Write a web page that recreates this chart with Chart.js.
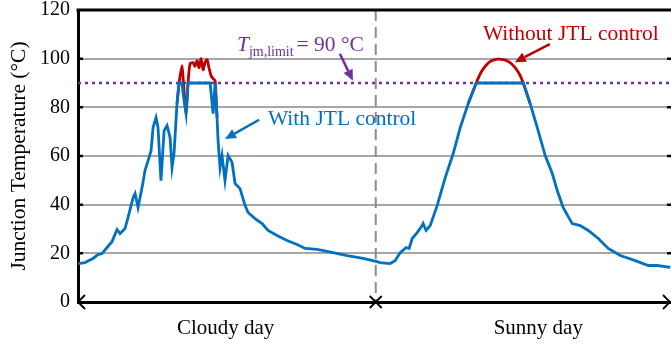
<!DOCTYPE html>
<html>
<head>
<meta charset="utf-8">
<script src="https://cdn.jsdelivr.net/npm/chart.js@4.4.1/dist/chart.umd.min.js"></script>
<style>
  html, body { margin: 0; padding: 0; background: #fff; }
  canvas { display: block; }
</style>
</head>
<body>
<canvas id="chart" width="671" height="346"></canvas>
<script>
// hours over two days: 0-24 cloudy, 24-48 sunny
const hours = [
    0.00, 0.56, 1.21, 1.61, 1.94, 2.34, 2.74, 3.15, 3.39, 3.79,
    4.03, 4.44, 4.60, 4.84, 5.16, 5.40, 5.65, 5.89, 6.05, 6.29,
    6.45, 6.69, 6.94, 7.18, 7.42, 7.58, 7.74, 7.98, 8.15, 8.39,
    8.47, 8.71, 8.87, 10.65, 10.89, 11.05, 11.21, 11.29, 11.45, 11.61,
    11.85, 12.10, 12.42, 12.66, 13.06, 13.47, 13.71, 14.27, 14.84, 15.32,
    16.05, 16.85, 17.66, 18.31, 19.27, 20.56, 21.69, 22.98, 24.11, 24.35,
    25.16, 25.56, 25.97, 26.45, 26.69, 26.94, 27.34, 27.74, 27.82, 28.06,
    28.39, 28.95, 29.60, 30.24, 30.81, 31.45, 32.10, 35.89, 36.45, 37.02,
    37.66, 38.23, 38.63, 39.11, 39.84, 40.48, 41.13, 41.94, 42.74, 43.71,
    44.92, 45.97, 46.69, 47.74
];
const withJtl = [
    15.8, 16.2, 17.9, 19.5, 19.9, 22.4, 24.8, 29.8, 28.1, 30.2,
    34.7, 42.9, 44.6, 38.8, 47.0, 54.0, 58.1, 62.2, 71.7, 75.8,
    71.7, 49.9, 70.4, 72.5, 67.6, 55.2, 61.0, 81.5, 90.0, 90.0,
    85.6, 77.4, 90.0, 90.0, 77.4, 90.0, 75.8, 66.3, 55.2, 60.2,
    49.9, 60.2, 57.3, 48.7, 46.6, 39.6, 36.8, 34.3, 32.2, 29.4,
    27.3, 25.3, 23.6, 22.0, 21.6, 20.3, 19.1, 17.9, 16.6, 16.2,
    15.8, 17.0, 20.3, 22.4, 22.0, 26.1, 28.5, 31.4, 32.2, 29.4,
    31.4, 39.6, 51.1, 60.9, 71.7, 81.5, 90.0, 90.0, 81.5, 71.7,
    60.2, 52.8, 45.8, 38.8, 32.2, 31.4, 29.4, 26.1, 22.0, 19.1,
    17.0, 15.0, 15.0, 14.2
];

// without JTL control, only where it leaves the controlled curve
const noJtlHours = [
    7.98, 8.15, 8.39, 8.50, 8.71, 8.87, 9.03, 9.27, 9.43, 9.60,
    9.76, 9.92, 10.08, 10.24, 10.40, 10.57, 10.73, 10.89, 11.05, 11.21,
    20.0,
    31.45, 32.10, 32.50, 32.90, 33.30, 33.80, 34.30, 34.80, 35.20, 35.60,
    35.89, 36.45
];
const withoutJtl = [
    81.5, 90.0, 97.1, 90.0, 77.4, 90.0, 97.9, 98.4, 96.9, 99.2,
    96.3, 100.0, 95.4, 98.4, 99.6, 96.0, 93.0, 91.8, 91.0, 75.8,
    null,
    81.5, 90.0, 94.5, 97.3, 99.0, 99.8, 99.6, 98.5, 96.5, 93.5,
    90.0, 81.5
];

const limitHours = [0, 47.8];
const limitTemp = [90, 90];

const dayBounds = [0, 24, 47.8];
const dayLabels = ['Cloudy day', 'Sunny day'];
const yTicks = [0, 20, 40, 60, 80, 100, 120];

const BLUE = '#0070C0';
const RED = '#C00000';
const PURPLE = '#7030A0';
const SERIF = '"Liberation Serif", "Times New Roman", serif';

function pts(xs, ys) {
    return xs.map((h, i) => ({ x: h, y: ys[i] }));
}

function arrow(ctx, x1, y1, x2, y2, color) {
    const ang = Math.atan2(y2 - y1, x2 - x1);
    const len = 11, half = 5;
    const bx = x2 - len * Math.cos(ang), by = y2 - len * Math.sin(ang);
    ctx.strokeStyle = color;
    ctx.fillStyle = color;
    ctx.lineWidth = 2.5;
    ctx.setLineDash([]);
    ctx.beginPath();
    ctx.moveTo(x1, y1);
    ctx.lineTo(bx, by);
    ctx.stroke();
    ctx.beginPath();
    ctx.moveTo(x2, y2);
    ctx.lineTo(bx + half * Math.sin(ang), by - half * Math.cos(ang));
    ctx.lineTo(bx - half * Math.sin(ang), by + half * Math.cos(ang));
    ctx.closePath();
    ctx.fill();
}

const decor = {
    id: 'decor',
    beforeDatasetsDraw(chart) {
        const { ctx, chartArea: a, scales: { x } } = chart;
        const xm = x.getPixelForValue(dayBounds[1]);
        ctx.save();
        ctx.strokeStyle = '#8C8C8C';
        ctx.lineWidth = 2;
        ctx.setLineDash([11, 6]);
        ctx.beginPath();
        ctx.moveTo(xm, a.top);
        ctx.lineTo(xm, a.bottom);
        ctx.stroke();
        ctx.restore();
    },
    afterDraw(chart) {
        const { ctx, chartArea: a, scales: { x, y } } = chart;
        ctx.save();

        // top frame line
        ctx.strokeStyle = '#000';
        ctx.lineWidth = 3;
        ctx.beginPath();
        ctx.moveTo(a.left - 1.5, a.top);
        ctx.lineTo(a.right, a.top);
        ctx.stroke();

        // small inner tick marks
        ctx.lineWidth = 2.5;
        for (const v of yTicks.slice(1, -1)) {
            const py = y.getPixelForValue(v);
            ctx.beginPath();
            ctx.moveTo(a.left, py);
            ctx.lineTo(a.left + 5, py);
            ctx.moveTo(a.right - 4, py);
            ctx.lineTo(a.right, py);
            ctx.stroke();
        }

        // day markers on the time axis: <  X  >
        const yb = a.bottom;
        const x0 = x.getPixelForValue(dayBounds[0]);
        const x1 = x.getPixelForValue(dayBounds[1]);
        const x2 = x.getPixelForValue(dayBounds[2]) - 1;
        ctx.lineWidth = 1.8;
        ctx.beginPath();
        ctx.moveTo(x0 + 7, yb - 7); ctx.lineTo(x0, yb); ctx.lineTo(x0 + 7, yb + 7);
        ctx.moveTo(x1 - 6, yb - 6); ctx.lineTo(x1 + 6, yb + 6);
        ctx.moveTo(x1 + 6, yb - 6); ctx.lineTo(x1 - 6, yb + 6);
        ctx.moveTo(x2 - 7, yb - 7); ctx.lineTo(x2, yb); ctx.lineTo(x2 - 7, yb + 7);
        ctx.stroke();

        // limit label
        ctx.textBaseline = 'alphabetic';
        ctx.textAlign = 'left';
        ctx.fillStyle = PURPLE;
        let tx = x.getPixelForValue(12.81);
        const ty = y.getPixelForValue(103.3);
        ctx.font = 'italic 21.5px ' + SERIF;
        ctx.fillText('T', tx, ty);
        tx += ctx.measureText('T').width;
        ctx.font = '14px ' + SERIF;
        ctx.fillText('jm,limit', tx, ty + 5);
        tx += ctx.measureText('jm,limit').width + 3;
        ctx.font = '21.5px ' + SERIF;
        ctx.fillText('= 90 °C', tx, ty);
        arrow(ctx, x.getPixelForValue(21.11), y.getPixelForValue(102.0),
            x.getPixelForValue(22.16), y.getPixelForValue(90.9), PURPLE);

        // with JTL control
        ctx.font = '21.5px ' + SERIF;
        ctx.fillStyle = BLUE;
        ctx.fillText('With JTL control', x.getPixelForValue(15.31), y.getPixelForValue(72.7));
        arrow(ctx, x.getPixelForValue(14.6), y.getPixelForValue(74.9),
            x.getPixelForValue(11.85), y.getPixelForValue(67.0), BLUE);

        // without JTL control
        ctx.fillStyle = RED;
        ctx.fillText('Without JTL control', x.getPixelForValue(32.64), y.getPixelForValue(107.8));
        arrow(ctx, x.getPixelForValue(38.03), y.getPixelForValue(106.0),
            x.getPixelForValue(35.21), y.getPixelForValue(98.5), RED);

        ctx.restore();
    }
};

new Chart(document.getElementById('chart'), {
    type: 'line',
    data: {
        datasets: [
            {
                label: 'With JTL control',
                data: pts(hours, withJtl),
                borderColor: BLUE,
                borderWidth: 2.8,
                pointRadius: 0,
                tension: 0,
                order: 0
            },
            {
                label: 'Without JTL control',
                data: pts(noJtlHours, withoutJtl),
                borderColor: RED,
                borderWidth: 2.8,
                pointRadius: 0,
                tension: 0.2,
                spanGaps: false,
                order: 1
            },
            {
                label: 'Tjm,limit',
                data: pts(limitHours, limitTemp),
                borderColor: PURPLE,
                borderWidth: 2.5,
                borderDash: [3, 4],
                pointRadius: 0,
                order: 2
            }
        ]
    },
    options: {
        responsive: false,
        animation: false,
        devicePixelRatio: 1,
        layout: { padding: { top: 10, right: 0, left: 0, bottom: 0 } },
        plugins: {
            legend: { display: false },
            tooltip: { enabled: false }
        },
        scales: {
            x: {
                type: 'linear',
                min: dayBounds[0],
                max: dayBounds[2],
                afterFit(scale) {
                    scale.height = 44;
                    scale.paddingLeft = 0;
                    scale.paddingRight = 0;
                },
                afterBuildTicks(scale) {
                    scale.ticks = [{ value: 11.9 }, { value: 37.1 }];
                },
                grid: { display: false, drawTicks: false },
                border: { display: true, color: '#000', width: 3 },
                ticks: {
                    autoSkip: false,
                    maxRotation: 0,
                    padding: 14,
                    color: '#000',
                    font: { family: SERIF, size: 21 },
                    callback(v, i) { return dayLabels[i]; }
                }
            },
            y: {
                min: 0,
                max: 120,
                afterFit(scale) {
                    scale.width = 78;
                    scale.paddingTop = 0;
                    scale.paddingBottom = 0;
                },
                afterBuildTicks(scale) {
                    scale.ticks = yTicks.map((v) => ({ value: v }));
                },
                grid: {
                    drawTicks: false,
                    lineWidth: 2,
                    color(ctx) {
                        const v = ctx.tick && ctx.tick.value;
                        return v === 0 || v === 120 ? 'rgba(0,0,0,0)' : '#A6A6A6';
                    }
                },
                border: { display: true, color: '#000', width: 3 },
                ticks: {
                    padding: 8,
                    color: '#000',
                    font: { family: SERIF, size: 20, lineHeight: 1 }
                },
                title: {
                    display: true,
                    text: 'Junction Temperature (°C)',
                    color: '#000',
                    font: { family: SERIF, size: 21.5 },
                    padding: { top: 6, bottom: 0 }
                }
            }
        }
    },
    plugins: [decor]
});
</script>
</body>
</html>
